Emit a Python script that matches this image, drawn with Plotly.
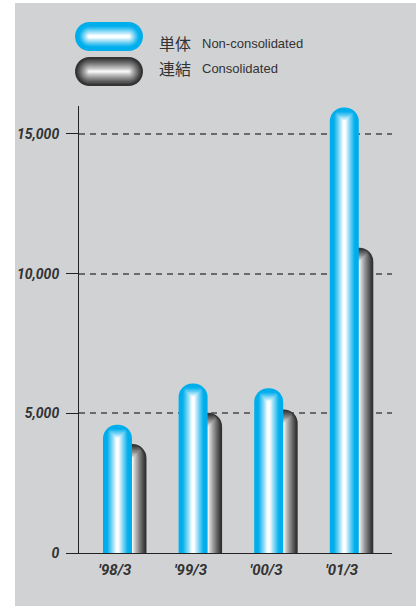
import numpy as np
import plotly.graph_objects as go

# ---------------- data ----------------
categories = ["'98/3", "'99/3", "'00/3", "'01/3"]
non_consolidated = [4590, 6070, 5900, 15950]
consolidated = [3900, 5020, 5140, 10930]
y_ticks = [0, 5000, 10000, 15000]
y_tick_labels = ["0", "5,000", "10,000", "15,000"]
legend_ja = ["単体", "連結"]
legend_en = ["Non-consolidated", "Consolidated"]

# ---------------- layout geometry ----------------
W, H = 420, 606
ML, MR, MT, MB = 79, 28, 106, 53
PW = W - ML - MR
PH = H - MT - MB
XR = [-0.476, 3.664]
YR = [0, 16000]
pxu = PW / (XR[1] - XR[0])
pyu = PH / (YR[1] - YR[0])

BAR_PX = 29.0
R = BAR_PX / 2
N = 15
cyan_dx = 2.5 / pxu
gray_dx = cyan_dx + (BAR_PX / 2) / pxu

CYAN_EDGE = np.array([0, 174, 236])
CYAN_MID = np.array([255, 255, 255])
GRAY_EDGE = np.array([52, 52, 52])
GRAY_MID = np.array([246, 246, 246])
TEXT = "#333333"
PANEL = "#d1d2d4"


def shade(edge, mid, t, lo, hi, gamma):
    g = float(np.clip((t - lo) / (hi - lo), 0, 1)) ** gamma
    c = mid + (edge - mid) * g
    return "rgb(%d,%d,%d)" % tuple(int(round(v)) for v in c)


def cyan_col(t):
    return shade(CYAN_EDGE, CYAN_MID, t, 0.08, 0.72, 0.9)


def gray_col(t):
    return shade(GRAY_EDGE, GRAY_MID, t, 0.04, 0.9, 0.85)


xs = list(range(len(categories)))
fig = go.Figure()


def add_cylinders(values, dx, colfn):
    for k in range(N):
        r_k = R * (N - k) / N
        w_k = 2 * r_k / pxu
        t = 1 - (k + 0.5) / N
        yk = [v - (R - r_k) / pyu for v in values]
        fig.add_trace(go.Bar(
            x=xs, y=yk, width=w_k, offset=dx - w_k / 2,
            marker=dict(color=colfn(t), line=dict(width=0),
                        cornerradius="50%", opacity=1),
            hoverinfo="skip", showlegend=False))


add_cylinders(consolidated, gray_dx, gray_col)
add_cylinders(non_consolidated, cyan_dx, cyan_col)


# ---------------- legend pills (shapes) ----------------
def to_paper(px, py):
    return (px - ML) / PW, (MT + PH - py) / PH


def stadium(x0, y0, x1, y1):
    r = (y1 - y0) / 2
    cy = (y0 + y1) / 2
    pts = []
    for a in np.linspace(-np.pi / 2, np.pi / 2, 16):
        pts.append((x1 - r + r * np.cos(a), cy + r * np.sin(a)))
    for a in np.linspace(np.pi / 2, 3 * np.pi / 2, 16):
        pts.append((x0 + r + r * np.cos(a), cy + r * np.sin(a)))
    pp = [to_paper(*p) for p in pts]
    return "M " + " L ".join("%.5f,%.5f" % p for p in pp) + " Z"


shapes = []
# grey panel background
bx0, by1 = to_paper(15, 3)
bx1, by0 = to_paper(416, 612)
shapes.append(dict(type="rect", xref="paper", yref="paper", x0=bx0, x1=bx1,
                   y0=by0, y1=by1, fillcolor=PANEL, line=dict(width=0),
                   layer="below"))

pill_x0, pill_x1 = 75, 143
pill_rows = [(22, 51, cyan_col), (57, 86, gray_col)]
NP = 14
for y0, y1, colfn in pill_rows:
    rp = (y1 - y0) / 2
    for k in range(NP):
        d = rp * k / NP
        t = 1 - (k + 0.5) / NP
        shapes.append(dict(type="path", xref="paper", yref="paper",
                           path=stadium(pill_x0 + d, y0 + d, pill_x1 - d, y1 - d),
                           fillcolor=colfn(t), line=dict(width=0)))

annotations = []
for i, (ja, en) in enumerate(zip(legend_ja, legend_en)):
    cy = 43 + i * 25
    ax, ay = to_paper(157, cy)
    annotations.append(dict(x=ax, y=ay, xref="paper", yref="paper", text=ja,
                            showarrow=False, xanchor="left", yanchor="middle",
                            font=dict(family="Noto Sans CJK JP", size=16, color=TEXT)))
    ex, ey = to_paper(200, cy)
    annotations.append(dict(x=ex, y=ey, xref="paper", yref="paper", text=en,
                            showarrow=False, xanchor="left", yanchor="middle",
                            font=dict(family="Liberation Sans", size=13, color=TEXT)))

tickfont = dict(family="Roboto", size=14, color=TEXT, weight="bold", style="italic")

fig.update_layout(
    width=W, height=H,
    margin=dict(l=ML, r=MR, t=MT, b=MB, pad=0),
    paper_bgcolor="white",
    plot_bgcolor="rgba(0,0,0,0)",
    barmode="overlay",
    showlegend=False,
    shapes=shapes,
    annotations=annotations,
    xaxis=dict(range=XR, tickmode="array", tickvals=xs, ticktext=categories,
               showline=True, linecolor="#222222", linewidth=1,
               showgrid=False, zeroline=False, ticks="", fixedrange=True,
               tickfont=dict(tickfont, size=15), ticklabelstandoff=3),
    yaxis=dict(range=YR, tickmode="array", tickvals=y_ticks, ticktext=y_tick_labels,
               showline=True, linecolor="#222222", linewidth=1,
               showgrid=True, gridcolor="#6a6a6a", gridwidth=1.5, griddash="6px,5px",
               zeroline=False, ticks="outside", ticklen=12, tickcolor="#222222",
               tickwidth=1, tickfont=tickfont, ticklabelstandoff=4, fixedrange=True),
)

fig.write_html("out.html", config={"displayModeBar": False},
               post_script="document.body.style.margin='0';document.body.style.padding='0';")
